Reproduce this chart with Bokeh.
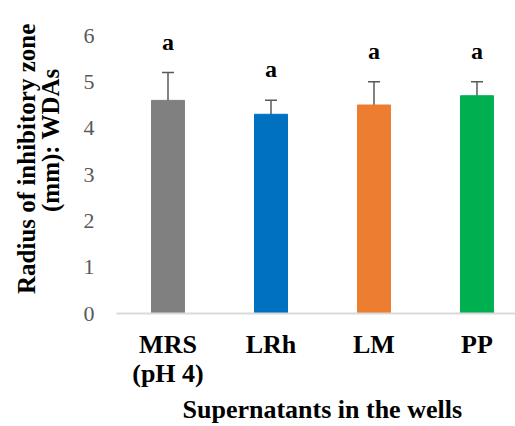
from bokeh.core.properties import value
from bokeh.embed import file_html
from bokeh.models import (ColumnDataSource, FixedTicker, LinearAxis, Range1d,
                          TeeHead, Title, Whisker)
from bokeh.plotting import figure
from bokeh.resources import INLINE

# Supernatant groups and measured inhibition radius (mm)
categories = ["MRS", "LRh", "LM", "PP"]
category_sublabels = ["(pH 4)", "", "", ""]
means = [4.6, 4.3, 4.5, 4.7]
errors = [0.6, 0.3, 0.5, 0.3]
letters = ["a", "a", "a", "a"]
colors = ["#808080", "#0070c0", "#ed7d31", "#00b050"]
y_ticks = [0, 1, 2, 3, 4, 5, 6]

FONT = "'Liberation Serif', serif"
NBSP = "\u00a0"

xpos = [i + 0.5 for i in range(len(categories))]
source = ColumnDataSource(dict(
    x=xpos,
    top=means,
    upper=[m + e for m, e in zip(means, errors)],
    lower=[m - e for m, e in zip(means, errors)],
    letter=letters,
    color=colors,
))

p = figure(
    width=515, height=426,
    x_range=Range1d(0, 3.874), y_range=Range1d(0, 6),
    output_backend="svg", toolbar_location=None,
    min_border_left=116, min_border_right=0,
    min_border_top=35, min_border_bottom=113,
)
p.outline_line_color = None
p.grid.grid_line_color = None
p.background_fill_color = "white"

p.vbar(x="x", top="top", width=0.32, color="color", source=source)

whisker = Whisker(
    base="x", upper="upper", lower="lower", source=source,
    line_color="#595959", line_width=1.5,
    upper_head=TeeHead(size=12, line_color="#595959", line_width=1.5),
    lower_head=TeeHead(size=12, line_color="#595959", line_width=1.5),
)
p.add_layout(whisker)

# significance letters above the error bars
p.text(x="x", y="upper", text="letter", source=source,
       text_font=value(FONT), text_font_style="bold", text_font_size="24px",
       text_align="center", text_baseline="bottom", y_offset=-18,
       text_color="black")

# x axis: category names, then a second row for the sub-labels
xa = p.xaxis[0]
xa.ticker = FixedTicker(ticks=xpos)
xa.major_label_overrides = {x: c for x, c in zip(xpos, categories)}
xa.axis_line_color = "#d9d9d9"
xa.axis_line_width = 2
xa.major_tick_line_color = None
xa.minor_tick_line_color = None
xa.major_label_text_font = FONT
xa.major_label_text_font_style = "bold"
xa.major_label_text_font_size = "26px"
xa.major_label_text_color = "black"
xa.major_label_standoff = 10

sub_ticks = [x for x, s in zip(xpos, category_sublabels) if s]
xa2 = LinearAxis(ticker=FixedTicker(ticks=sub_ticks),
                 major_label_overrides={x: s for x, s in zip(xpos, category_sublabels) if s})
xa2.axis_line_color = None
xa2.major_tick_line_color = None
xa2.minor_tick_line_color = None
xa2.major_label_text_font = FONT
xa2.major_label_text_font_style = "bold"
xa2.major_label_text_font_size = "26px"
xa2.major_label_text_color = "black"
xa2.major_label_standoff = -9
p.add_layout(xa2, "below")

# y axis with a two-line title (leading spaces nudge each line upward)
ya = p.yaxis[0]
ya.ticker = FixedTicker(ticks=y_ticks)
ya.axis_line_color = None
ya.major_tick_line_color = None
ya.minor_tick_line_color = None
ya.major_label_text_font = FONT
ya.major_label_text_font_size = "22px"
ya.major_label_text_color = "#595959"
ya.major_label_standoff = 16
ya.axis_label = NBSP * 5 + "Radius of inhibitory zone\n" + NBSP * 11 + "(mm): WDAs"
ya.axis_label_text_font = FONT
ya.axis_label_text_font_style = "bold"
ya.axis_label_text_font_size = "25px"
ya.axis_label_text_color = "black"
ya.axis_label_text_line_height = 0.88
ya.axis_label_standoff = 17

p.add_layout(Title(text="Supernatants in the wells", offset=66, standoff=5,
                   text_font=FONT, text_font_style="bold", text_color="black",
                   align="left", text_font_size="26px"), "below")

open("out.html", "w").write(file_html(p, INLINE))
